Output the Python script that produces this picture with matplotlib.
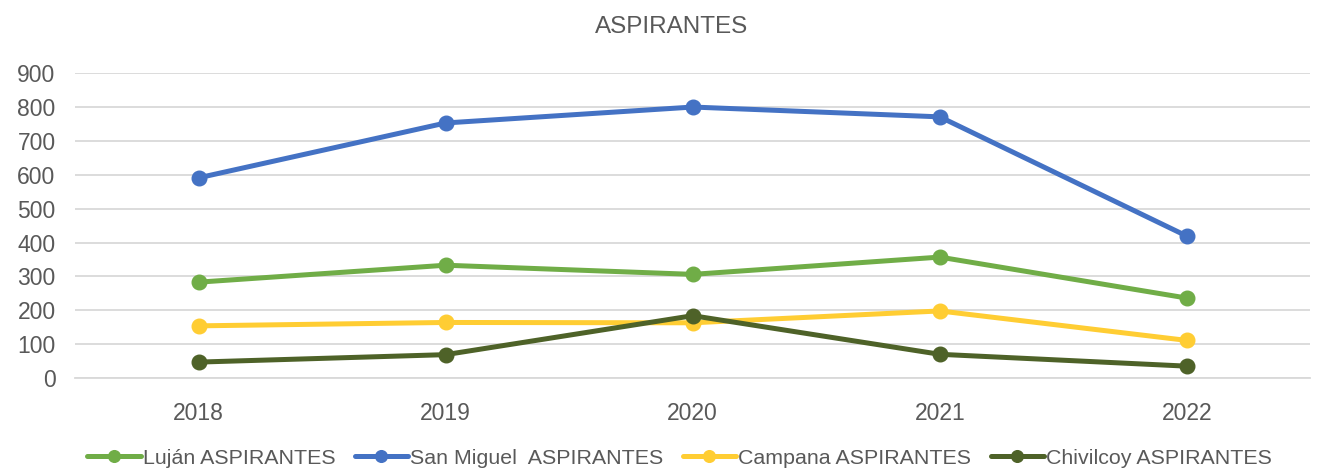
import matplotlib.pyplot as plt

years = ['2018', '2019', '2020', '2021', '2022']
lujan = [283, 333, 306, 357, 236]
san_miguel = [591, 753, 800, 771, 419]
campana = [154, 164, 163, 198, 111]
chivilcoy = [47, 69, 184, 70, 35]

series = [
	('Luján ASPIRANTES', lujan, '#70ad47'),
	('San Miguel  ASPIRANTES', san_miguel, '#4472c4'),
	('Campana ASPIRANTES', campana, '#ffcd33'),
	('Chivilcoy ASPIRANTES', chivilcoy, '#4e6228'),
]

plt.rcParams['font.family'] = ['Liberation Sans', 'DejaVu Sans']
text_color = '#595959'

fig = plt.figure(figsize=(13.17, 4.69), dpi=100)
ax = fig.add_axes([0.057, 0.194, 0.938, 0.650])

x = list(range(len(years)))
for label, values, color in series:
	ax.plot(x, values, color=color, linewidth=3.6, marker='o', markersize=10.5,
		label=label, solid_capstyle='round', zorder=3)

ax.set_xlim(-0.5, len(years) - 0.5)
ax.set_ylim(0, 900)
ax.set_yticks(range(0, 901, 100))
ax.set_xticks(x)
ax.set_xticklabels(years)
ax.grid(axis='y', color='#d9d9d9', linewidth=1.3)
ax.set_axisbelow(True)
for side in ['top', 'right', 'left']:
	ax.spines[side].set_visible(False)
ax.spines['bottom'].set_color('#d9d9d9')
ax.spines['bottom'].set_linewidth(1.3)
ax.tick_params(axis='both', length=0, labelsize=16.5, labelcolor=text_color)
ax.tick_params(axis='x', pad=17)
ax.tick_params(axis='y', pad=14)

fig.suptitle('ASPIRANTES', x=0.51, y=0.966, fontsize=17.5, color=text_color)

fig.legend(loc='lower center', bbox_to_anchor=(0.516, -0.038), ncol=4, frameon=False,
	fontsize=15.4, labelcolor=text_color, handlelength=2.5, handletextpad=0.1,
	columnspacing=0.9, markerscale=0.8)

fig.savefig('out.png', dpi=100)
